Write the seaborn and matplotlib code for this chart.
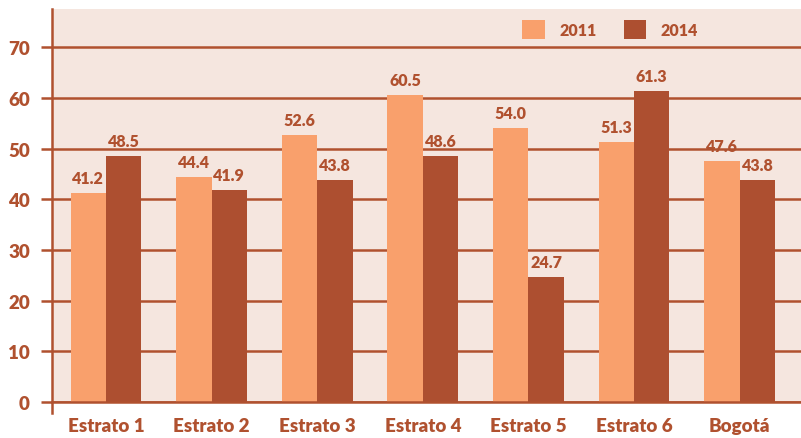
import pandas as pd
import matplotlib
matplotlib.use("Agg")
import matplotlib.pyplot as plt
import seaborn as sns

categories = ["Estrato 1", "Estrato 2", "Estrato 3", "Estrato 4", "Estrato 5", "Estrato 6", "Bogotá"]
values_2011 = [41.2, 44.4, 52.6, 60.5, 54.0, 51.3, 47.6]
values_2014 = [48.5, 41.9, 43.8, 48.6, 24.7, 61.3, 43.8]
years = ["2011", "2014"]

brown = "#b0512f"
light = "#f9a06c"
dark = "#ad4f30"
bg = "#f5e6df"

df = pd.DataFrame({
    "cat": categories * 2,
    "year": [years[0]] * len(categories) + [years[1]] * len(categories),
    "value": values_2011 + values_2014,
})

sns.set_style("white")
plt.rcParams["font.family"] = ["Lato", "DejaVu Sans"]
weight = "heavy"

fig = plt.figure(figsize=(8.01, 4.39), dpi=100)
ax = fig.add_axes([0.065, 0.082, 0.935, 0.895])
ax.set_facecolor(bg)

sns.barplot(data=df, x="cat", y="value", hue="year", palette=[light, dark],
            width=0.67, gap=0, saturation=1, ax=ax, zorder=3, edgecolor="none")

for cont in ax.containers:
    ax.bar_label(cont, fmt="%.1f", padding=5, color=brown, fontsize=11.5,
                 fontweight=weight, zorder=4)

ax.set_ylim(0, 77.5)
ax.set_xlim(-0.51, 6.58)
ax.set_yticks(range(0, 80, 10))
ax.yaxis.grid(True, color=brown, linewidth=1.8, zorder=1)
ax.set_axisbelow(True)
ax.set_xlabel("")
ax.set_ylabel("")

for s in ["top", "right"]:
    ax.spines[s].set_visible(False)
ax.spines["left"].set_color(brown)
ax.spines["left"].set_linewidth(1.8)
ax.spines["left"].set_bounds(-2.2, 77.5)
ax.spines["bottom"].set_color(brown)
ax.spines["bottom"].set_linewidth(1.8)
ax.spines["bottom"].set_zorder(5)

ax.tick_params(axis="y", length=8, width=1.8, color=brown, labelcolor=brown,
               labelsize=13.5, pad=8, left=True)
ax.tick_params(axis="x", length=0, labelcolor=brown, labelsize=13.5, pad=11)
for lab in ax.get_xticklabels() + ax.get_yticklabels():
    lab.set_fontweight(weight)

leg = ax.legend(loc="upper center", bbox_to_anchor=(0.745, 1.008), ncol=2, frameon=False,
                handlelength=1.4, handleheight=1.4, columnspacing=1.7, handletextpad=0.9,
                fontsize=11.5)
for t in leg.get_texts():
    t.set_color(brown)
    t.set_fontweight(weight)

fig.savefig("out.png", dpi=100)
